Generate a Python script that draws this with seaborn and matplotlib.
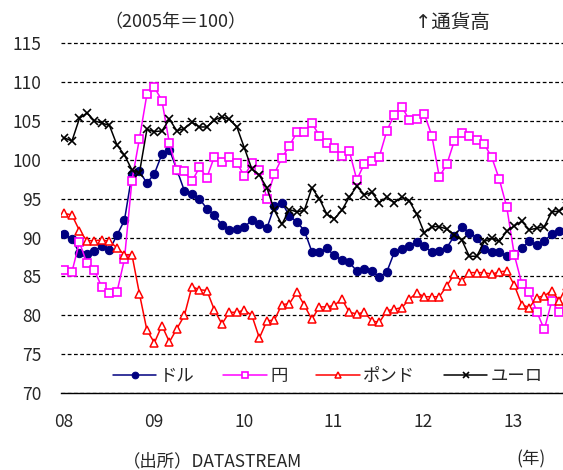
import matplotlib
matplotlib.use('Agg')
import matplotlib.pyplot as plt
import matplotlib.transforms as mtransforms
import numpy as np
import seaborn as sns

# monthly index (2005 = 100), Jan 2008 onwards
dollar = [90.4, 89.8, 88.0, 87.9, 88.3, 88.9, 88.4, 90.3, 92.2, 98.1, 98.5, 97.0,
          98.2, 100.7, 101.3, 98.7, 96.0, 95.6, 95.0, 93.7, 92.9, 91.6, 91.0, 91.1,
          91.3, 92.3, 91.8, 91.2, 94.0, 94.5, 92.8, 92.0, 90.9, 88.2, 88.1, 88.6,
          87.7, 87.1, 86.8, 85.7, 85.9, 85.7, 84.9, 85.6, 88.1, 88.5, 88.9, 89.4,
          88.9, 88.1, 88.3, 88.7, 90.2, 91.4, 90.6, 90.0, 88.5, 88.2, 88.2, 87.6,
          87.9, 88.7, 89.5, 89.0, 89.5, 90.5, 90.9, 91.2]
yen = [85.8, 85.6, 89.4, 86.7, 85.8, 83.6, 82.9, 83.0, 87.2, 97.3, 102.7, 108.4,
       109.3, 107.6, 102.1, 98.7, 98.5, 97.2, 99.0, 97.7, 100.4, 99.7, 100.3, 99.6,
       97.9, 99.6, 98.7, 95.0, 98.2, 100.2, 101.8, 103.5, 103.6, 104.7, 103.1, 102.1,
       101.5, 100.5, 101.1, 97.4, 99.5, 99.8, 100.4, 103.7, 105.8, 106.8, 105.1, 105.2,
       105.9, 103.1, 97.8, 99.4, 102.4, 103.4, 103.0, 102.5, 102.0, 100.3, 97.5, 93.9,
       87.8, 84.1, 83.0, 80.5, 78.2, 81.8, 80.4, 80.8]
pound = [93.1, 92.9, 90.9, 89.6, 89.6, 89.7, 89.5, 88.7, 87.8, 87.8, 82.8, 78.1,
         76.5, 78.7, 76.6, 78.3, 80.0, 83.7, 83.3, 83.2, 80.7, 78.9, 80.4, 80.4,
         80.7, 80.0, 77.1, 79.3, 79.4, 81.4, 81.5, 83.0, 81.3, 79.5, 81.1, 81.1,
         81.3, 82.1, 80.4, 80.2, 80.4, 79.3, 79.1, 80.6, 80.8, 81.0, 82.1, 82.9,
         82.4, 82.4, 82.4, 83.8, 85.3, 84.4, 85.5, 85.5, 85.5, 85.3, 85.6, 85.7,
         83.9, 81.4, 81.0, 82.3, 82.5, 83.2, 81.9, 83.8]
euro = [102.8, 102.4, 105.3, 106.0, 105.0, 104.7, 104.4, 101.9, 100.6, 98.7, 98.3, 103.9,
        103.6, 103.7, 105.2, 103.7, 104.0, 104.8, 104.2, 104.2, 105.1, 105.5, 105.2, 104.2,
        101.5, 98.8, 98.0, 96.4, 93.5, 91.7, 93.6, 93.3, 93.5, 96.4, 95.0, 93.0,
        92.4, 93.5, 95.2, 96.6, 95.5, 95.8, 94.5, 95.2, 94.5, 95.2, 94.7, 93.0,
        90.6, 91.4, 91.4, 91.1, 90.3, 89.7, 87.6, 87.6, 89.5, 89.9, 89.5, 90.8,
        91.5, 92.1, 91.0, 91.2, 91.4, 93.3, 93.4, 94.0]

series_names = ['ドル', '円', 'ポンド', 'ユーロ']
year_labels = ['08', '09', '10', '11', '12', '13']

sns.set_style('white')
plt.rcParams['font.family'] = ['Noto Sans CJK JP', 'DejaVu Sans']
fs = 12.5

fig = plt.figure(figsize=(5.63, 4.70), dpi=100)
ax = fig.add_axes([60.7 / 563, 1 - 393.3 / 470, 1 - 60.7 / 563, (393.3 - 42.5) / 470])

months = np.arange(len(dollar)) + 0.5

sns.lineplot(x=months, y=dollar, ax=ax, color='#000080', lw=1.1, marker='o', ms=6,
             mec='#000080', mfc='#000080', label=series_names[0])
sns.lineplot(x=months, y=yen, ax=ax, color='#FF00FF', lw=1.1, marker='s', ms=6,
             mec='#FF00FF', mfc='white', mew=1.2, label=series_names[1])
sns.lineplot(x=months, y=pound, ax=ax, color='#FF0000', lw=1.1, marker='^', ms=6,
             mec='#FF0000', mfc='white', mew=1.1, label=series_names[2])
sns.lineplot(x=months, y=euro, ax=ax, color='black', lw=1.1, marker='x', ms=5.5,
             mec='black', mew=1.2, label=series_names[3])

ax.set_xlim(0, 67)
ax.set_ylim(70, 115.05)
ax.set_yticks(range(70, 116, 5))
ax.set_xticks(np.arange(len(year_labels)) * 12)
ax.set_xticklabels(year_labels)
ax.yaxis.grid(True, linestyle=(0, (3, 2)), color='black', lw=0.9)
ax.xaxis.grid(False)

for s in ['left', 'right', 'top']:
    ax.spines[s].set_visible(False)
ax.spines['bottom'].set_color('black')
ax.spines['bottom'].set_linewidth(1.0)
ax.tick_params(axis='x', direction='out', length=4, width=1, color='black', pad=10, labelsize=fs)
ax.tick_params(axis='y', direction='out', length=0, pad=14, labelsize=fs)
ax.set_xlabel('')
ax.set_ylabel('')

# shift year labels a little to the right like the original
offset = mtransforms.ScaledTranslation(3 / 100, 0, fig.dpi_scale_trans)
for lab in ax.get_xticklabels():
    lab.set_transform(lab.get_transform() + offset)

ax.legend(loc='center', bbox_to_anchor=(0.532, 0.049), ncol=4, frameon=False,
          handlelength=2.5, handletextpad=0.2, columnspacing=1.65, fontsize=fs,
          markerscale=0.8)

fig.text(175 / 563, 1 - 22 / 470, '（2005年＝100）', ha='center', va='center', fontsize=13)
fig.text(452 / 563, 1 - 22 / 470, '↑通貨高', ha='center', va='center', fontsize=14,
         family=['DejaVu Sans', 'Noto Sans CJK JP'])
fig.text(213 / 563, 1 - 461 / 470, '（出所）DATASTREAM', ha='center', va='center', fontsize=fs)
fig.text(531 / 563, 1 - 459 / 470, '(年)', ha='center', va='center', fontsize=fs)

fig.savefig('out.png', dpi=100)
